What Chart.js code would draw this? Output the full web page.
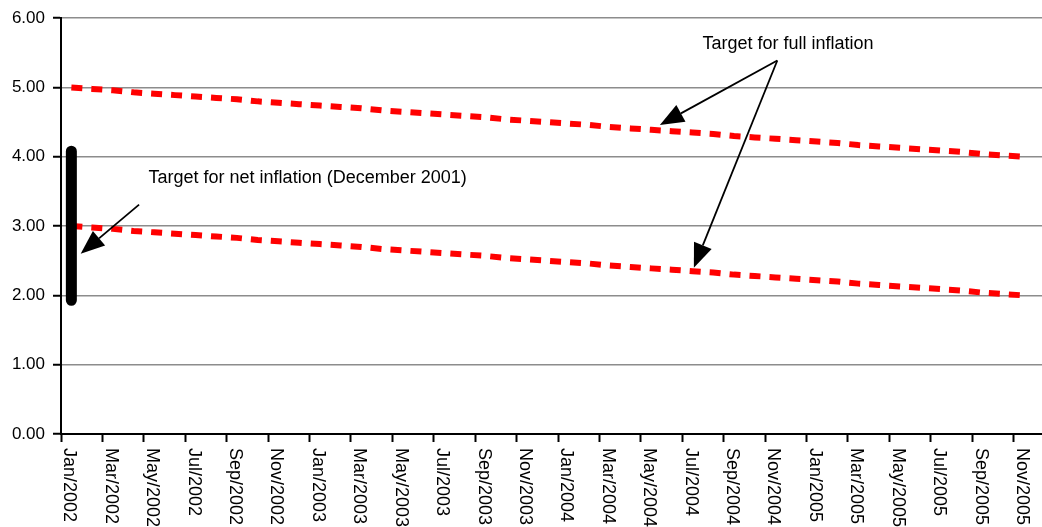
<!DOCTYPE html>
<html>
<head>
<meta charset="utf-8">
<script src="https://cdn.jsdelivr.net/npm/chart.js@4.4.1/dist/chart.umd.min.js"></script>
<style>
  html, body { margin: 0; padding: 0; overflow: hidden; background: #fff; }
  #wrap { position: absolute; left: 0; top: 0; width: 1055px; height: 527px; }
</style>
</head>
<body>
<div id="wrap"><canvas id="chart" width="1055" height="527"></canvas></div>
<script>
// months Jan/2002 .. Dec/2005
var months = [
  "Jan/2002","Feb/2002","Mar/2002","Apr/2002","May/2002","Jun/2002","Jul/2002","Aug/2002","Sep/2002","Oct/2002","Nov/2002","Dec/2002",
  "Jan/2003","Feb/2003","Mar/2003","Apr/2003","May/2003","Jun/2003","Jul/2003","Aug/2003","Sep/2003","Oct/2003","Nov/2003","Dec/2003",
  "Jan/2004","Feb/2004","Mar/2004","Apr/2004","May/2004","Jun/2004","Jul/2004","Aug/2004","Sep/2004","Oct/2004","Nov/2004","Dec/2004",
  "Jan/2005","Feb/2005","Mar/2005","Apr/2005","May/2005","Jun/2005","Jul/2005","Aug/2005","Sep/2005","Oct/2005","Nov/2005","Dec/2005"
];

var fullTarget = [
  5.00,4.98,4.96,4.93,4.91,4.89,4.87,4.85,4.83,4.80,4.78,4.76,
  4.74,4.72,4.70,4.67,4.65,4.63,4.61,4.59,4.57,4.54,4.52,4.50,
  4.48,4.46,4.43,4.41,4.39,4.37,4.35,4.33,4.30,4.28,4.26,4.24,
  4.22,4.20,4.17,4.15,4.13,4.11,4.09,4.07,4.04,4.02,4.00
];

var lowTarget = [
  3.00,2.98,2.96,2.93,2.91,2.89,2.87,2.85,2.83,2.80,2.78,2.76,
  2.74,2.72,2.70,2.67,2.65,2.63,2.61,2.59,2.57,2.54,2.52,2.50,
  2.48,2.46,2.43,2.41,2.39,2.37,2.35,2.33,2.30,2.28,2.26,2.24,
  2.22,2.20,2.17,2.15,2.13,2.11,2.09,2.07,2.04,2.02,2.00
];

// net inflation target band (December 2001), drawn at the first month
var netTarget = [4.08, 1.93];

var yTicks = [0, 1, 2, 3, 4, 5, 6];

var FONT = "'Liberation Sans', Arial, sans-serif";

// annotations in data units (x = month index, y = value)
var notes = [
  { text: "Target for full inflation", x: 34.61, y: 5.63 },
  { text: "Target for net inflation (December 2001)", x: 11.41, y: 3.69 }
];
var arrows = [
  { from: [3.27, 3.31], to: [0.45, 2.60] },
  { from: [34.09, 5.39], to: [28.42, 4.46] },
  { from: [34.09, 5.39], to: [30.06, 2.40] }
];

function drawArrow(ctx, x1, y1, x2, y2) {
  var ang = Math.atan2(y2 - y1, x2 - x1);
  var len = 24, half = 9.5;
  var bx = x2 - len * Math.cos(ang), by = y2 - len * Math.sin(ang);
  ctx.beginPath();
  ctx.moveTo(x1, y1);
  ctx.lineTo(bx, by);
  ctx.stroke();
  ctx.beginPath();
  ctx.moveTo(x2, y2);
  ctx.lineTo(bx + half * Math.sin(ang), by - half * Math.cos(ang));
  ctx.lineTo(bx - half * Math.sin(ang), by + half * Math.cos(ang));
  ctx.closePath();
  ctx.fill();
}

var extras = {
  id: 'extras',
  afterDraw: function (chart) {
    var ctx = chart.ctx;
    var xs = chart.scales.x, ys = chart.scales.y;

    // x labels, rotated clockwise, every second month
    ctx.save();
    ctx.fillStyle = '#000';
    ctx.font = "18px " + FONT;
    ctx.textAlign = 'left';
    ctx.textBaseline = 'middle';
    months.forEach(function (m, i) {
      if (i % 2 !== 0) return;
      ctx.save();
      ctx.translate(xs.getPixelForValue(i) - 2, xs.top + 14);
      ctx.rotate(Math.PI / 2);
      ctx.fillText(m, 0, 0);
      ctx.restore();
    });
    ctx.restore();

    // arrows and notes
    ctx.save();
    ctx.strokeStyle = '#000';
    ctx.fillStyle = '#000';
    ctx.lineWidth = 1.8;
    arrows.forEach(function (a) {
      drawArrow(ctx,
        xs.getPixelForValue(a.from[0]), ys.getPixelForValue(a.from[1]),
        xs.getPixelForValue(a.to[0]), ys.getPixelForValue(a.to[1]));
    });
    ctx.font = "18px " + FONT;
    ctx.textAlign = 'center';
    ctx.textBaseline = 'middle';
    notes.forEach(function (n) {
      ctx.fillText(n.text, xs.getPixelForValue(n.x), ys.getPixelForValue(n.y));
    });
    ctx.restore();
  }
};

var ctx = document.getElementById("chart").getContext('2d');
var chart = new Chart(ctx, {
  type: 'line',
  data: {
    labels: months,
    datasets: [{
        label: "Net target",
        data: [{ x: months[0], y: netTarget[0] }, { x: months[0], y: netTarget[1] }],
        borderColor: "#000",
        borderWidth: 11,
        borderCapStyle: 'round',
        pointRadius: 0,
        fill: false,
        order: 0
      }, {
        label: "Full inflation upper",
        data: fullTarget,
        borderColor: "#ff0000",
        borderWidth: 6,
        borderDash: [11, 9],
        pointRadius: 0,
        fill: false,
        order: 1
      }, {
        label: "Full inflation lower",
        data: lowTarget,
        borderColor: "#ff0000",
        borderWidth: 6,
        borderDash: [11, 9],
        pointRadius: 0,
        fill: false,
        order: 1
      }]
  },
  options: {
    responsive: false,
    animation: false,
    devicePixelRatio: 1,
    layout: { padding: { top: 15, left: 0, right: 0, bottom: 0 } },
    plugins: {
      legend: { display: false },
      tooltip: { enabled: false }
    },
    scales: {
      x: {
        type: 'category',
        offset: true,
        afterFit: function (s) { s.height = 93; },
        grid: {
          offset: true,
          drawOnChartArea: false,
          tickLength: 8,
          tickWidth: 2,
          tickColor: function (c) { return c.index % 2 === 0 ? '#000' : 'rgba(0,0,0,0)'; }
        },
        border: { color: '#000', width: 2 },
        ticks: { display: false }
      },
      y: {
        min: 0,
        max: 6,
        afterFit: function (s) { s.width = 61; },
        afterBuildTicks: function (s) { s.ticks = yTicks.map(function (v) { return { value: v }; }); },
        grid: {
          color: '#8c8c8c',
          lineWidth: 1.5,
          tickLength: 8,
          tickColor: '#000',
          tickWidth: 2
        },
        border: { color: '#000', width: 2 },
        ticks: {
          padding: 8,
          color: '#000',
          font: { family: FONT, size: 17 },
          callback: function (v) { return Number(v).toFixed(2); }
        }
      }
    }
  },
  plugins: [extras]
});
</script>
</body>
</html>
